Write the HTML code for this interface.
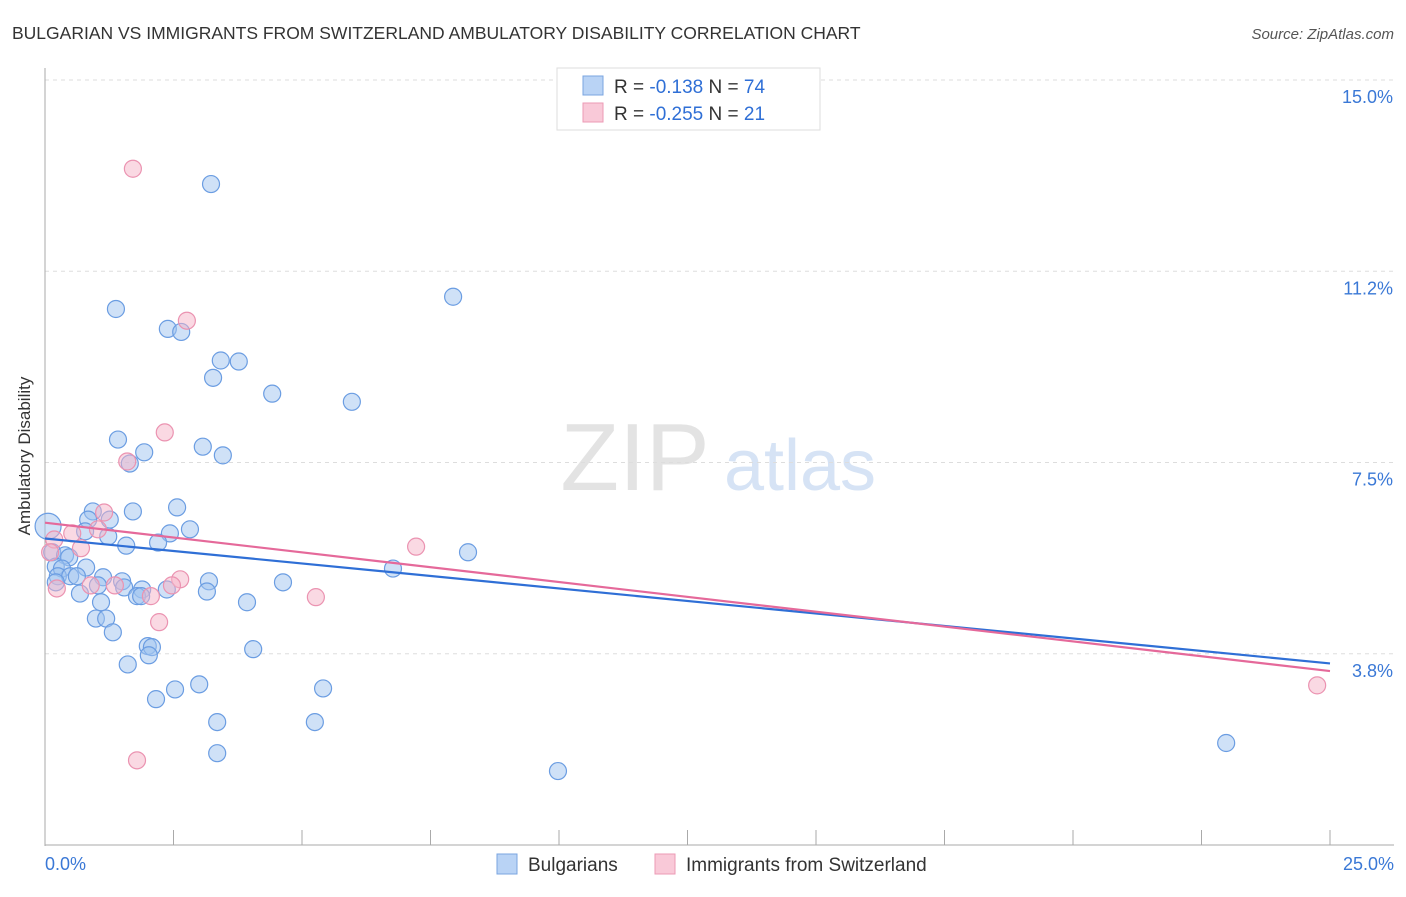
<!DOCTYPE html>
<html><head><meta charset="utf-8"><style>
body{margin:0;background:#fff;font-family:"Liberation Sans",sans-serif;}
svg text{font-family:"Liberation Sans",sans-serif;}
</style></head><body>
<svg width="1406" height="892" xmlns="http://www.w3.org/2000/svg">
<text x="12" y="39" font-size="17.5" fill="#333">BULGARIAN VS IMMIGRANTS FROM SWITZERLAND AMBULATORY DISABILITY CORRELATION CHART</text>
<text x="1394" y="39" font-size="15" fill="#555" text-anchor="end" font-style="italic">Source: ZipAtlas.com</text>
<text x="30" y="456" font-size="17" fill="#333" text-anchor="middle" transform="rotate(-90 30 456)">Ambulatory Disability</text>
<g><text x="635" y="490" font-size="96" fill="#e3e3e3" font-family="Liberation Serif" text-anchor="middle">ZIP</text><text x="800" y="490" font-size="72" fill="#d6e3f5" text-anchor="middle">atlas</text></g>
<g id="grid"></g><g id="axes"></g><g id="marks"></g>
<g>
<rect x="557" y="68" width="263" height="62" fill="#fff" stroke="#ddd"/>
<rect x="583" y="76" width="20" height="19" fill="#b9d3f5" stroke="#7aa5e0"/>
<text x="614" y="93" font-size="19" fill="#333">R = <tspan fill="#2f6fd6">-0.138</tspan>   N = <tspan fill="#2f6fd6">74</tspan></text>
<rect x="583" y="103" width="20" height="19" fill="#f9c9d8" stroke="#ec9ab5"/>
<text x="614" y="120" font-size="19" fill="#333">R = <tspan fill="#2f6fd6">-0.255</tspan>   N = <tspan fill="#2f6fd6"> 21</tspan></text>
</g>
<g>
<rect x="497" y="854" width="20" height="20" fill="#b9d3f5" stroke="#7aa5e0"/>
<text x="528" y="871" font-size="19" fill="#333">Bulgarians</text>
<rect x="655" y="854" width="20" height="20" fill="#f9c9d8" stroke="#ec9ab5"/>
<text x="686" y="871" font-size="19" fill="#333">Immigrants from Switzerland</text>
</g>
</svg>
<script>
const yTicks=[15,11.25,7.5,3.75];
const yTickLabels=["15.0%","11.2%","7.5%","3.8%"];
const xTickCount=10;
const blueX=[3.23,7.94,1.38,2.39,2.65,3.42,3.77,3.27,4.42,5.97,1.42,1.93,3.07,3.46,1.65,0.93,1.71,2.57,1.26,0.84,2.82,2.43,0.78,1.23,1.58,2.20,8.23,0.06,0.14,0.39,0.47,0.21,0.33,0.80,6.77,0.25,0.49,0.62,1.13,1.50,3.19,4.63,0.21,1.03,1.54,1.89,2.37,3.15,0.68,1.79,1.87,1.09,3.93,0.99,1.19,1.32,2.00,2.08,2.02,4.05,1.61,3.00,2.53,5.41,2.16,3.35,5.25,3.35,9.98,22.98];
const blueY=[12.96,10.75,10.51,10.12,10.06,9.50,9.48,9.16,8.85,8.69,7.95,7.70,7.81,7.64,7.48,6.54,6.54,6.62,6.38,6.38,6.19,6.11,6.15,6.05,5.87,5.93,5.74,6.25,5.74,5.68,5.64,5.46,5.42,5.44,5.42,5.27,5.27,5.27,5.25,5.17,5.17,5.15,5.15,5.09,5.05,5.01,5.01,4.97,4.93,4.88,4.88,4.76,4.76,4.44,4.44,4.17,3.90,3.88,3.72,3.84,3.54,3.15,3.05,3.07,2.86,2.41,2.41,1.80,1.45,2.00];
const pinkX=[1.71,2.76,2.33,1.60,1.15,1.03,0.53,0.18,0.70,7.22,0.10,2.63,2.47,0.89,1.36,2.06,5.27,0.23,2.22,1.79,24.75];
const pinkY=[13.26,10.28,8.09,7.52,6.52,6.19,6.11,5.99,5.82,5.85,5.74,5.21,5.09,5.09,5.09,4.88,4.86,5.03,4.37,1.66,3.13];
const blueTrend=[6.01,3.56];
const pinkTrend=[6.32,3.41];
const NS="http://www.w3.org/2000/svg";
const X=v=>45+v*(1285/25), Y=v=>845-v*(765/15);
function mk(tag,attrs,parent){const e=document.createElementNS(NS,tag);for(const k in attrs)e.setAttribute(k,attrs[k]);document.getElementById(parent).appendChild(e);return e;}
yTicks.forEach((t,i)=>{
 const l=mk('line',{x1:45,x2:1394,y1:Y(t),y2:Y(t),stroke:'#ddd','stroke-dasharray':'4,4'},'grid');
 
 
 const tx=mk('text',{x:1393,y:Y(t)+23,'font-size':18,fill:'#3a78d6','text-anchor':'end'},'axes');
 tx.textContent=yTickLabels[i];
 
 
});
mk('line',{x1:45,x2:45,y1:68,y2:846,stroke:'#aaa'},'axes');
mk('line',{x1:45,x2:1394,y1:845,y2:845,stroke:'#aaa'},'axes');
for(let i=1;i<=xTickCount;i++){const xv=i*25/xTickCount;const t=mk('line',{x1:X(xv),x2:X(xv),y1:830,y2:845,stroke:'#aaa'},'axes');
 
 }
let a=mk('text',{x:45,y:870,'font-size':18,fill:'#3a78d6'},'axes');a.textContent='0.0%';


a=mk('text',{x:1394,y:870,'font-size':18,fill:'#3a78d6','text-anchor':'end'},'axes');a.textContent='25.0%';


blueX.forEach((v,i)=>{const c=mk('circle',{cx:X(v),cy:Y(blueY[i]),r:i==27?13:8.5,fill:'rgba(160,195,240,0.5)',stroke:'#6b9de2','stroke-width':1.2},'marks');
 
 });
pinkX.forEach((v,i)=>{const c=mk('circle',{cx:X(v),cy:Y(pinkY[i]),r:8.5,fill:'rgba(245,180,200,0.5)',stroke:'#eb93b1','stroke-width':1.2},'marks');
 
 });
let tl=mk('line',{x1:X(0),y1:Y(blueTrend[0]),x2:X(25),y2:Y(blueTrend[1]),stroke:'#2f6fd6','stroke-width':2.2},'marks');


tl=mk('line',{x1:X(0),y1:Y(pinkTrend[0]),x2:X(25),y2:Y(pinkTrend[1]),stroke:'#e5699a','stroke-width':2.2},'marks');


</script>
</body></html>
